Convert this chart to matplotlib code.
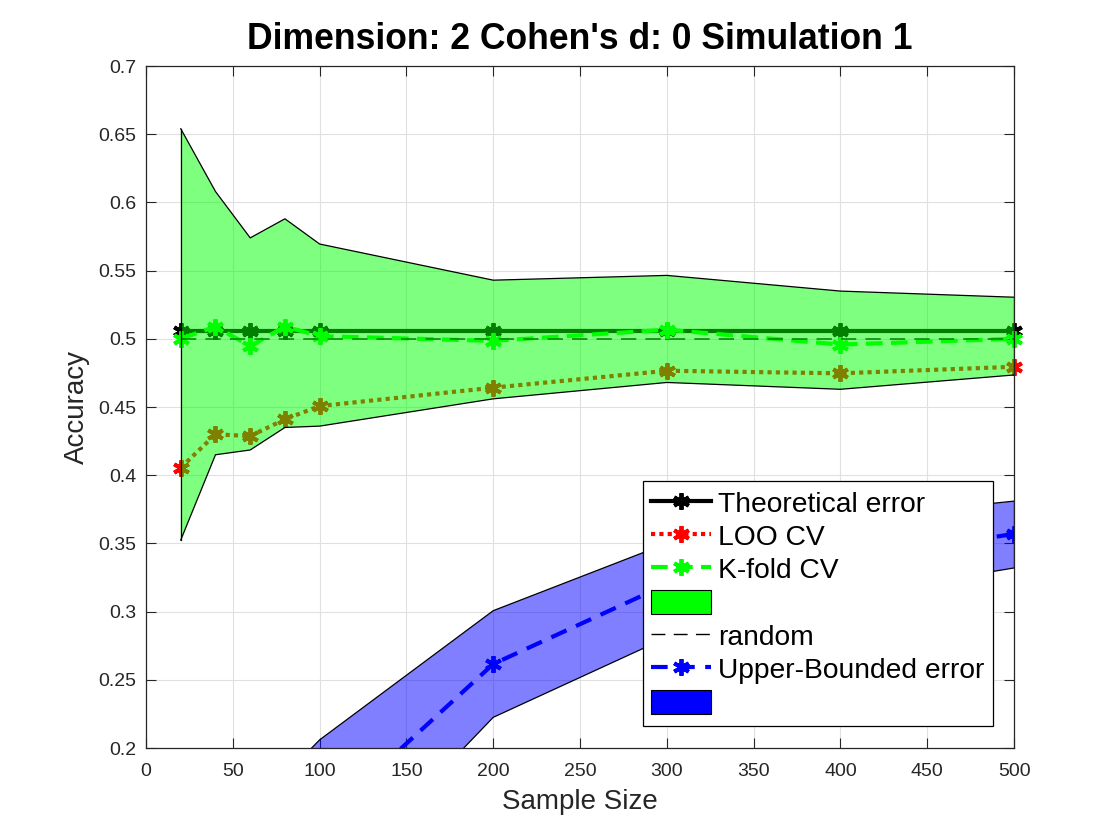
import matplotlib
matplotlib.use("Agg")
import matplotlib.pyplot as plt
from matplotlib.lines import Line2D
from matplotlib.patches import Patch

plt.rcParams["font.family"] = ["Liberation Sans", "DejaVu Sans"]

sample_size = [20, 40, 60, 80, 100, 200, 300, 400, 500]

theoretical = [0.506, 0.506, 0.506, 0.506, 0.506, 0.506, 0.506, 0.506, 0.506]
loo_cv = [0.4055, 0.430, 0.4287, 0.441, 0.4507, 0.4642, 0.4766, 0.4747, 0.4795]
kfold_cv = [0.500, 0.509, 0.4946, 0.509, 0.502, 0.4985, 0.5067, 0.4958, 0.500]
kfold_upper = [0.654, 0.608, 0.574, 0.588, 0.5695, 0.543, 0.5465, 0.535, 0.5305]
kfold_lower = [0.3525, 0.415, 0.4185, 0.435, 0.436, 0.456, 0.468, 0.463, 0.4735]
random_level = [0.5, 0.5, 0.5, 0.5, 0.5, 0.5, 0.5, 0.5, 0.5]
upper_bounded = [0.05, 0.08, 0.10, 0.12, 0.145, 0.2616, 0.320, 0.337, 0.357]
ub_upper = [0.10, 0.13, 0.155, 0.18, 0.206, 0.3007, 0.350, 0.368, 0.381]
ub_lower = [0.0, 0.02, 0.04, 0.06, 0.09, 0.2225, 0.281, 0.311, 0.332]

title = "Dimension: 2 Cohen's d: 0 Simulation 1"
legend_labels = ["Theoretical error", "LOO CV", "K-fold CV", "", "random",
                 "Upper-Bounded error", ""]

fig = plt.figure(figsize=(11.2, 8.4), dpi=100)
ax = fig.add_axes([0.1304, 0.1095, 0.775, 0.8119])

star = (6, 2, 0)
mk = dict(marker=star, ms=12, mew=2.8)
ax.plot(sample_size, theoretical, color="black", lw=3, zorder=2,
        clip_on=False, **mk)
ax.plot(sample_size, loo_cv, color="red", lw=3, ls=(0, (1, 1)),
        zorder=2, clip_on=False, **mk)
ax.plot(sample_size, kfold_cv, color="#00ff00", lw=3, ls=(0, (4, 2)),
        zorder=2, clip_on=False, **mk)
ax.plot(sample_size, random_level, color="black", lw=1.1, ls=(0, (10, 6)),
        zorder=2)
ax.fill_between(sample_size, kfold_lower, kfold_upper, facecolor="#00ff00",
                alpha=0.5, edgecolor="none", zorder=3)
ax.plot(sample_size, kfold_upper, color="black", lw=0.9, zorder=3.5)
ax.plot(sample_size, kfold_lower, color="black", lw=0.9, zorder=3.5)
ax.plot([sample_size[0], sample_size[0]], [kfold_lower[0], kfold_upper[0]],
        color="black", lw=0.9, zorder=3.5)
ax.plot([sample_size[-1], sample_size[-1]], [kfold_lower[-1], kfold_upper[-1]],
        color="black", lw=0.9, zorder=3.5)

ax.plot(sample_size, upper_bounded, color="blue", lw=3, ls=(0, (4, 2.5)),
        zorder=4, **mk)
ax.fill_between(sample_size, ub_lower, ub_upper, facecolor="blue",
                alpha=0.5, edgecolor="none", zorder=5)
ax.plot(sample_size, ub_upper, color="black", lw=0.9, zorder=5.5)
ax.plot(sample_size, ub_lower, color="black", lw=0.9, zorder=5.5)
ax.plot([sample_size[-1], sample_size[-1]], [ub_lower[-1], ub_upper[-1]],
        color="black", lw=0.9, zorder=5.5)

ax.set_xlim(0, 500)
ax.set_ylim(0.2, 0.7)
ax.set_xticks(range(0, 501, 50))
ax.set_yticks([0.2, 0.25, 0.3, 0.35, 0.4, 0.45, 0.5, 0.55, 0.6, 0.65, 0.7])
ax.set_yticklabels(["0.2", "0.25", "0.3", "0.35", "0.4", "0.45", "0.5",
                    "0.55", "0.6", "0.65", "0.7"])
ax.grid(True, color="#e0e0e0", lw=0.8, zorder=0)
ax.set_axisbelow(True)
ax.tick_params(direction="in", top=True, right=True, labelsize=14,
               colors="#262626", length=7, width=0.8, pad=7)
ax.tick_params(axis="x", pad=11)
for s in ax.spines.values():
    s.set_color("#262626")
    s.set_linewidth(0.9)
    s.set_zorder(6)

ax.set_xlabel("Sample Size", fontsize=20, color="#262626", labelpad=6)
ax.set_ylabel("Accuracy", fontsize=20, color="#262626", labelpad=6)
ax.set_title(title, fontsize=25.6, fontweight="bold", pad=12)

handles = [
    Line2D([], [], color="black", lw=3, **mk),
    Line2D([], [], color="red", lw=3, ls=(0, (1, 1)), **mk),
    Line2D([], [], color="#00ff00", lw=3, ls=(0, (4, 2)), **mk),
    Patch(facecolor="#00ff00", edgecolor="black", lw=0.8),
    Line2D([], [], color="black", lw=1, ls=(0, (10, 6))),
    Line2D([], [], color="blue", lw=3, ls=(0, (4, 2.5)), **mk),
    Patch(facecolor="blue", edgecolor="black", lw=0.8),
]
leg = ax.legend(handles, legend_labels, loc="lower right",
                bbox_to_anchor=(0.9758, 0.0323), fontsize=20.3, fancybox=False,
                framealpha=1, edgecolor="black", handlelength=2.13,
                handleheight=0.93, labelspacing=0.2, borderpad=0.3,
                handletextpad=0.25, borderaxespad=0)
leg.set_zorder(10)
leg.get_frame().set_linewidth(0.9)

fig.savefig("out.png", dpi=100)
